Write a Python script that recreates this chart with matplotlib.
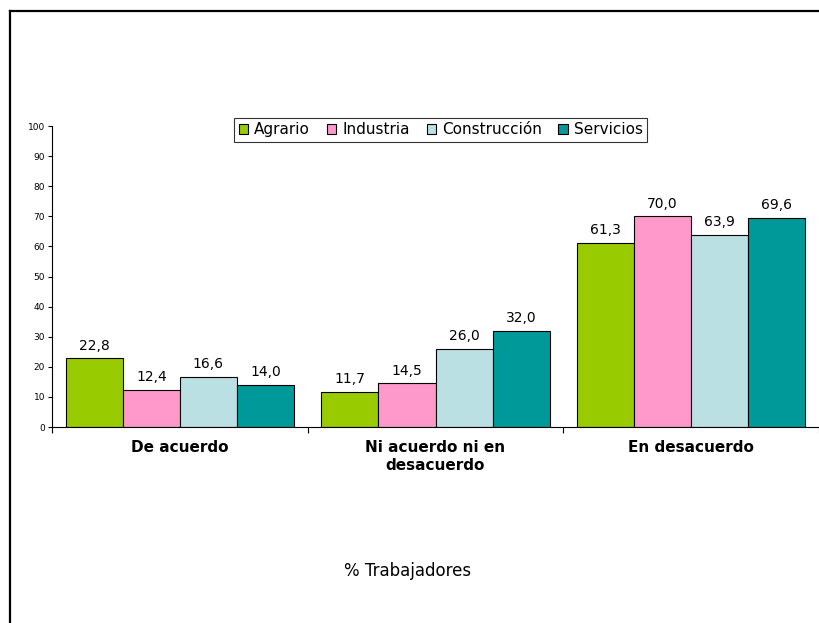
import numpy as np
import matplotlib.pyplot as plt
from matplotlib.lines import Line2D

# survey answers by sector (% of workers)
categories = ['De acuerdo', 'Ni acuerdo ni en\ndesacuerdo', 'En desacuerdo']
sectors = ['Agrario', 'Industria', 'Construcción', 'Servicios']
agrario = [22.8, 11.7, 61.3]
industria = [12.4, 14.5, 70.0]
construccion = [16.6, 26.0, 63.9]
servicios = [14.0, 32.0, 69.6]
yticks = [0, 10, 20, 30, 40, 50, 60, 70, 80, 90, 100]

colors = ['#99CC00', '#FF99CC', '#BBE0E3', '#009999']
series = [agrario, industria, construccion, servicios]

fig = plt.figure(figsize=(8.19, 6.23), dpi=100)
ax = fig.add_axes([0.0635, 0.3146, 0.9365, 0.4831])

x = np.arange(len(categories))
width = 0.223
for i, (vals, col, name) in enumerate(zip(series, colors, sectors)):
    pos = x + (i - 1.5) * width
    bars = ax.bar(pos, vals, width, color=col, edgecolor='black',
                  linewidth=0.8, label=name)
    for b, v in zip(bars, vals):
        ax.annotate(('%.1f' % v).replace('.', ','),
                    (b.get_x() + b.get_width() / 2, v),
                    xytext=(0, 4), textcoords='offset points',
                    ha='center', va='bottom', fontsize=10)

ax.set_xlim(-0.5, 2.5)
ax.set_ylim(0, 100)
ax.set_yticks(yticks)
ax.tick_params(axis='y', labelsize=6.5, length=3, width=0.8, pad=2)

# category names sit between the boundary ticks
ax.set_xticks(x)
ax.set_xticklabels(categories, fontsize=11, fontweight='bold', linespacing=1.25)
ax.tick_params(axis='x', length=0, pad=9)
ax.set_xticks([-0.5, 0.5, 1.5, 2.5], minor=True)
ax.tick_params(axis='x', which='minor', length=4, width=0.8)

for s in ['top', 'right']:
    ax.spines[s].set_visible(False)
for s in ['left', 'bottom']:
    ax.spines[s].set_linewidth(0.8)

leg = ax.legend(loc='center', bbox_to_anchor=(0.507, 0.987), ncol=4,
                fontsize=11, frameon=True, fancybox=False, edgecolor='black',
                handlelength=0.6, handleheight=0.6, handletextpad=0.4,
                columnspacing=1.1, borderpad=0.3, borderaxespad=0)
leg.get_frame().set_linewidth(0.8)

fig.text(408 / 819, 1 - 571 / 623, '% Trabajadores', ha='center',
         va='center', fontsize=12)

# frame lines along the top and left of the chart area
fig.add_artist(Line2D([9.5 / 819, 9.5 / 819], [0, 1 - 10.5 / 623],
                      color='black', linewidth=1.6, transform=fig.transFigure))
fig.add_artist(Line2D([9.5 / 819, 1], [1 - 10.5 / 623, 1 - 10.5 / 623],
                      color='black', linewidth=1.6, transform=fig.transFigure))

fig.savefig('out.png', dpi=100)
